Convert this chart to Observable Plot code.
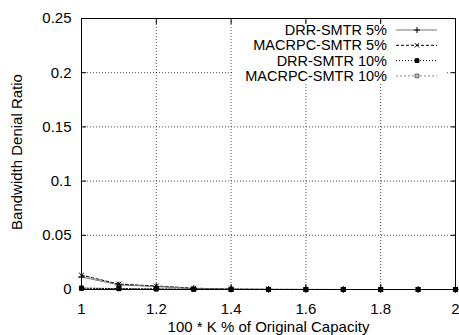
<!DOCTYPE html>
<html><head><meta charset="utf-8">
<script src="https://cdn.jsdelivr.net/npm/d3@7"></script>
<script src="https://cdn.jsdelivr.net/npm/@observablehq/plot@0.6"></script>
<style>body{margin:0;background:#fff}</style>
</head><body><div id="chart"></div>
<script>
const capacity = [1, 1.1, 1.2, 1.3, 1.4, 1.5, 1.6, 1.7, 1.8, 1.9, 2];
const drrSmtr5 = [0.0115, 0.0042, 0.0027, 0.0009, 0.0003, 0.0001, 0, 0, 0, 0, 0];
const macrpcSmtr5 = [0.0132, 0.0050, 0.0032, 0.0012, 0.0004, 0.0002, 0.0001, 0, 0, 0, 0];
const drrSmtr10 = [0.0012, 0.0008, 0.0005, 0.0002, 0.0001, 0, 0, 0, 0, 0, 0];
const macrpcSmtr10 = [0.0013, 0.0009, 0.0006, 0.0003, 0.0001, 0, 0, 0, 0, 0, 0];
const seriesNames = ["DRR-SMTR 5%", "MACRPC-SMTR 5%", "DRR-SMTR 10%", "MACRPC-SMTR 10%"];
const xTicks = [1, 1.2, 1.4, 1.6, 1.8, 2];
const yTicks = [0, 0.05, 0.1, 0.15, 0.2, 0.25];
const xTitle = "100 * K % of Original Capacity";
const yTitle = "Bandwidth Denial Ratio";

const FONT = "'Liberation Sans', Arial, sans-serif";
const styles = [
  {stroke: "#777", dash: null, symbol: "plus", dotStroke: "#000", fill: "none"},
  {stroke: "#000", dash: "3,2", symbol: "times", dotStroke: "#000", fill: "none"},
  {stroke: "#000", dash: "1,2", symbol: "square", dotStroke: "#000", fill: "#000"},
  {stroke: "#888", dash: "2,2", symbol: "square", dotStroke: "#666", fill: "#bbb"}
];
const allSeries = [drrSmtr5, macrpcSmtr5, drrSmtr10, macrpcSmtr10];
const rows = [];
allSeries.forEach((vals, i) => vals.forEach((v, j) => rows.push({series: seriesNames[i], x: capacity[j], y: v})));

const marks = [
  Plot.gridX(xTicks.slice(1, -1), {stroke: "#000", strokeOpacity: 0.7, strokeDasharray: "1,2"}),
  Plot.gridY(yTicks.slice(1, -1), {stroke: "#000", strokeOpacity: 0.7, strokeDasharray: "1,2"})
];
const drawOrder = [3, 1, 0, 2];
drawOrder.forEach(i => {
  const s = styles[i];
  const d = rows.filter(r => r.series === seriesNames[i]);
  marks.push(Plot.line(d, {x: "x", y: "y", stroke: s.stroke, strokeWidth: 1, strokeDasharray: s.dash}));
});
drawOrder.forEach(i => {
  const s = styles[i];
  const d = rows.filter(r => r.series === seriesNames[i]);
  marks.push(Plot.dot(d, {x: "x", y: "y", symbol: () => s.symbol, r: 2.3, stroke: s.dotStroke, fill: s.fill, strokeWidth: 1}));
});
marks.push(
  Plot.frame({stroke: "#000"}),
  Plot.axisX(xTicks, {tickSize: -5, tickPadding: 19, tickFormat: d => String(d), label: null}),
  Plot.axisX(xTicks, {anchor: "top", tickSize: -5, tickFormat: () => "", label: null}),
  Plot.axisY(yTicks, {tickSize: -5, tickPadding: 15, tickFormat: d => String(d), label: null}),
  Plot.axisY(yTicks, {anchor: "right", tickSize: -5, tickFormat: () => "", label: null}),
  Plot.text([yTitle], {frameAnchor: "left", textAnchor: "middle", lineAnchor: "middle", rotate: -90, dx: -64, dy: -2}),
  Plot.text([xTitle], {frameAnchor: "bottom", textAnchor: "middle", lineAnchor: "middle", dy: 38})
);

const chart = Plot.plot({
  width: 459, height: 335,
  marginLeft: 81, marginRight: 4, marginTop: 18, marginBottom: 46,
  x: {domain: [1, 2]}, y: {domain: [0, 0.25]},
  style: {fontFamily: FONT, fontSize: "15px", color: "#000", background: "#fff"},
  marks
});
document.getElementById("chart").appendChild(chart);

// legend
const svg = d3.select(chart);
const leg = svg.append("g");
leg.append("rect").attr("x", 232).attr("y", 24).attr("width", 214).attr("height", 59).attr("fill", "#fff");
const sym = {plus: d3.symbolPlus, times: d3.symbolTimes, square: d3.symbolSquare};
seriesNames.forEach((name, i) => {
  const s = styles[i];
  const y = 30 + i * 15.3;
  leg.append("text").attr("x", 387).attr("y", y).attr("dy", "0.35em").attr("text-anchor", "end")
    .attr("font-family", FONT).attr("font-size", 14.5).text(name);
  leg.append("line").attr("x1", 396).attr("x2", 437).attr("y1", y).attr("y2", y)
    .attr("stroke", s.stroke).attr("stroke-dasharray", s.dash);
  leg.append("path").attr("transform", `translate(417,${y})`)
    .attr("d", d3.symbol(sym[s.symbol], 14)()).attr("stroke", s.dotStroke).attr("fill", s.fill);
});
</script></body></html>
